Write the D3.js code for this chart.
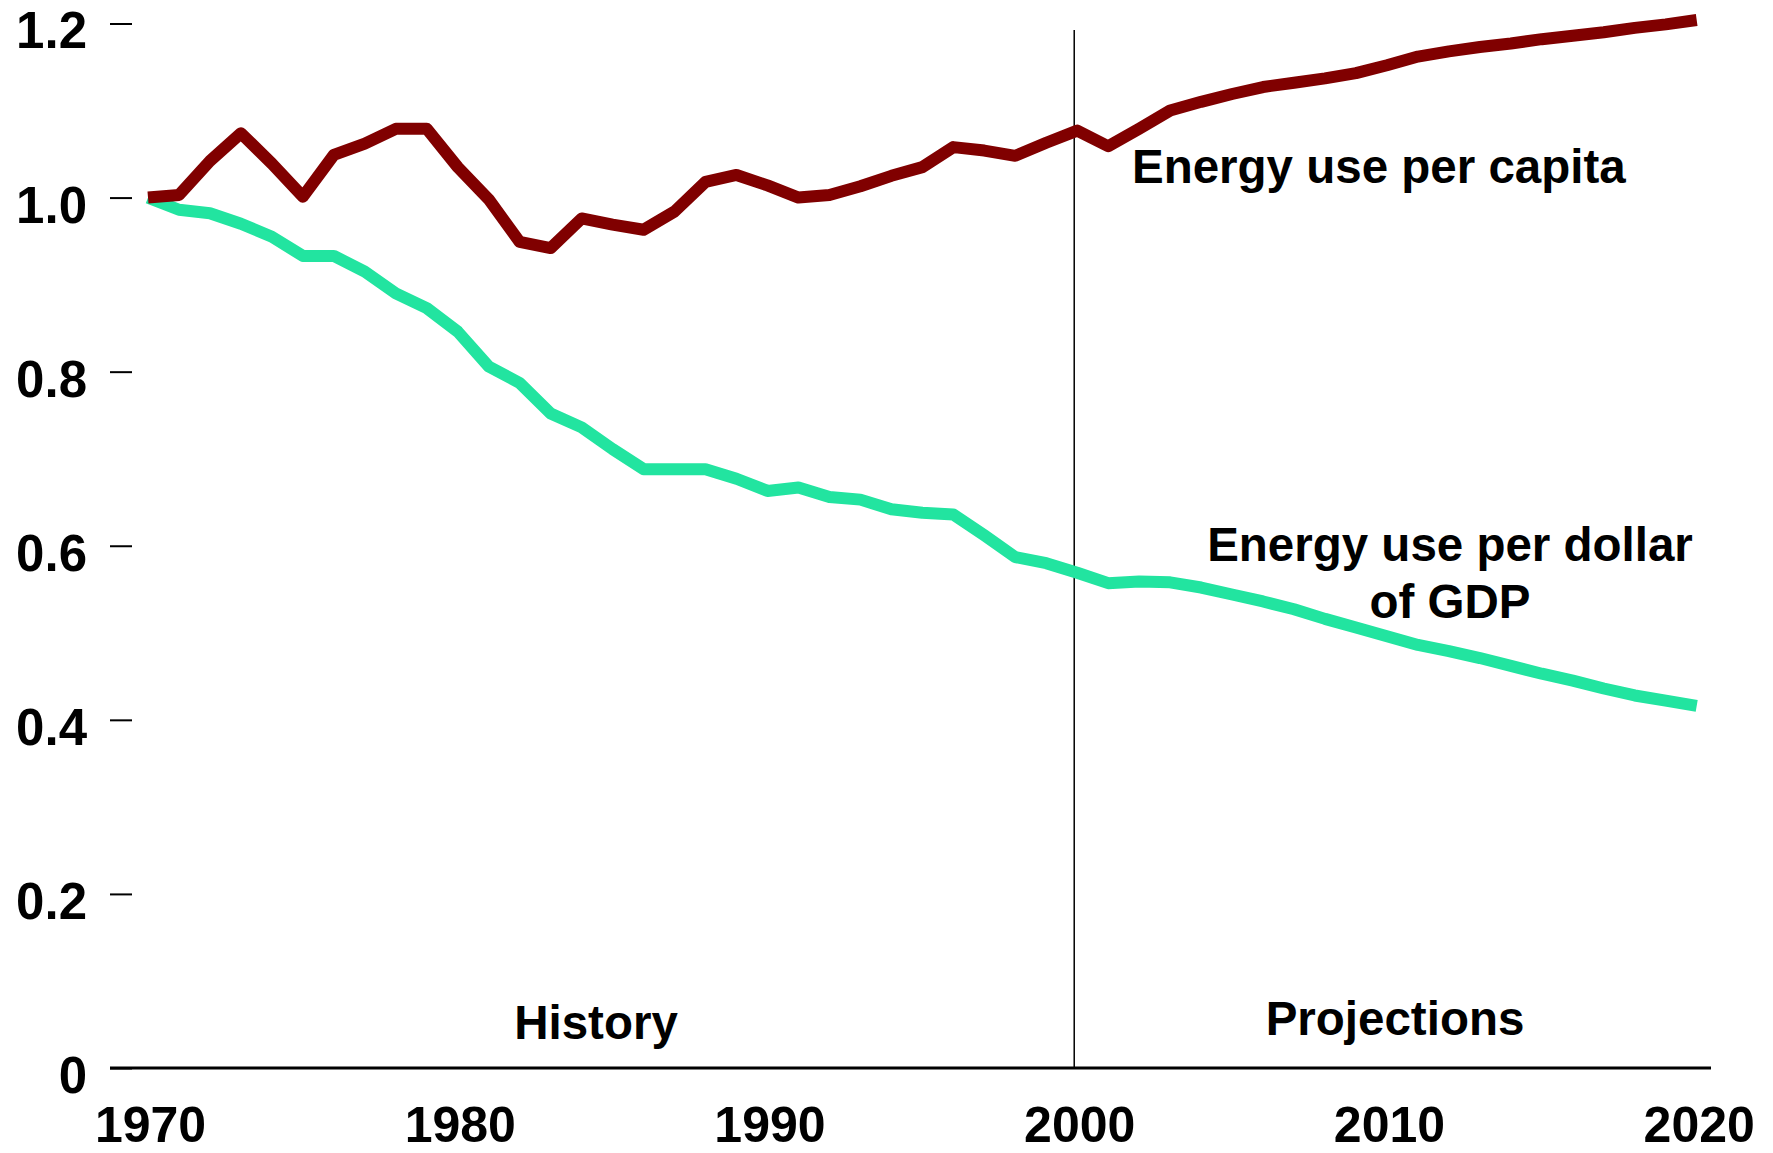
<!DOCTYPE html>
<html>
<head>
<meta charset="utf-8">
<script src="https://cdn.jsdelivr.net/npm/d3@7"></script>
<style>
  body { margin: 0; background: #fff; }
  text { font-family: "Liberation Sans", Arial, sans-serif; font-weight: bold; fill: #000; }
</style>
</head>
<body>
<div id="chart"></div>
<script>
// years on the x axis
const years = [1970, 1971, 1972, 1973, 1974, 1975, 1976, 1977, 1978, 1979,
  1980, 1981, 1982, 1983, 1984, 1985, 1986, 1987, 1988, 1989,
  1990, 1991, 1992, 1993, 1994, 1995, 1996, 1997, 1998, 1999,
  2000, 2001, 2002, 2003, 2004, 2005, 2006, 2007, 2008, 2009,
  2010, 2011, 2012, 2013, 2014, 2015, 2016, 2017, 2018, 2019, 2020];

// index, 1970 = 1.0
const perCapita = [1.000, 1.003, 1.042, 1.074, 1.039, 1.001, 1.049, 1.062, 1.079, 1.079,
  1.035, 0.998, 0.949, 0.942, 0.976, 0.969, 0.963, 0.984, 1.018, 1.026,
  1.014, 1.000, 1.003, 1.013, 1.025, 1.035, 1.058, 1.054, 1.048, 1.063,
  1.077, 1.059, 1.079, 1.100, 1.110, 1.119, 1.127, 1.132, 1.137, 1.143,
  1.152, 1.162, 1.168, 1.173, 1.177, 1.182, 1.186, 1.190, 1.195, 1.199, 1.204];

const perDollar = [1.000, 0.986, 0.982, 0.970, 0.955, 0.933, 0.933, 0.915, 0.890, 0.873,
  0.846, 0.806, 0.787, 0.752, 0.736, 0.711, 0.688, 0.688, 0.688, 0.677,
  0.663, 0.667, 0.656, 0.653, 0.642, 0.638, 0.636, 0.612, 0.587, 0.580,
  0.569, 0.557, 0.559, 0.558, 0.552, 0.544, 0.536, 0.527, 0.516, 0.506,
  0.496, 0.486, 0.479, 0.471, 0.462, 0.453, 0.445, 0.436, 0.428, 0.422, 0.416];

const yTicks = [0, 0.2, 0.4, 0.6, 0.8, 1.0, 1.2];
const xTicks = [1970, 1980, 1990, 2000, 2010, 2020];

const width = 1773;
const height = 1153;

const svg = d3.select("#chart")
  .append("svg")
  .attr("width", width)
  .attr("height", height);

const x = d3.scaleLinear().domain([1970, 2020]).range([148, 1696.7]);
const y = d3.scaleLinear().domain([0, 1.2]).range([1068, 23.5]);

// y axis: short ticks, no domain line
const yAxis = svg.append("g")
  .attr("transform", "translate(132,0)")
  .call(d3.axisLeft(y)
    .tickValues(yTicks)
    .tickSize(22)
    .tickPadding(23)
    .tickFormat(d => d === 0 ? "0" : d3.format(".1f")(d)));
yAxis.select(".domain").remove();
yAxis.selectAll(".tick line").attr("stroke", "#000").attr("stroke-width", 2);
yAxis.selectAll(".tick text")
  .attr("dy", "0.48em")
  .style("font-size", "51px");

// x axis labels
const xAxis = svg.append("g")
  .attr("transform", `translate(2,${y(0)})`)
  .call(d3.axisBottom(x)
    .tickValues(xTicks)
    .tickSize(0)
    .tickPadding(38)
    .tickFormat(d3.format("d")));
xAxis.select(".domain").remove();
xAxis.selectAll(".tick text").style("font-size", "50px");

// baseline
svg.append("line")
  .attr("x1", 110)
  .attr("x2", 1711)
  .attr("y1", y(0))
  .attr("y2", y(0))
  .attr("stroke", "#000")
  .attr("stroke-width", 3);

// history / projections divider
svg.append("line")
  .attr("x1", x(2000) - 3)
  .attr("x2", x(2000) - 3)
  .attr("y1", 30)
  .attr("y2", y(0))
  .attr("stroke", "#000")
  .attr("stroke-width", 1.5);

const line = d3.line()
  .x((d, i) => x(years[i]))
  .y(d => y(d));

svg.append("path")
  .datum(perDollar)
  .attr("d", line)
  .attr("fill", "none")
  .attr("stroke", "#22e4a0")
  .attr("stroke-width", 12)
  .attr("stroke-linejoin", "round");

svg.append("path")
  .datum(perCapita)
  .attr("d", line)
  .attr("fill", "none")
  .attr("stroke", "#800000")
  .attr("stroke-width", 12)
  .attr("stroke-linejoin", "round");

// labels
svg.append("text")
  .attr("x", 1132)
  .attr("y", 183)
  .style("font-size", "47.5px")
  .text("Energy use per capita");

const dollarLabel = svg.append("text")
  .attr("x", 1450)
  .attr("y", 561)
  .attr("text-anchor", "middle")
  .style("font-size", "47.5px");
dollarLabel.append("tspan").attr("x", 1450).text("Energy use per dollar");
dollarLabel.append("tspan").attr("x", 1450).attr("dy", 57).text("of GDP");

svg.append("text")
  .attr("x", 596)
  .attr("y", 1039)
  .attr("text-anchor", "middle")
  .style("font-size", "47.5px")
  .text("History");

svg.append("text")
  .attr("x", 1395)
  .attr("y", 1035)
  .attr("text-anchor", "middle")
  .style("font-size", "47.5px")
  .text("Projections");
</script>
</body>
</html>
